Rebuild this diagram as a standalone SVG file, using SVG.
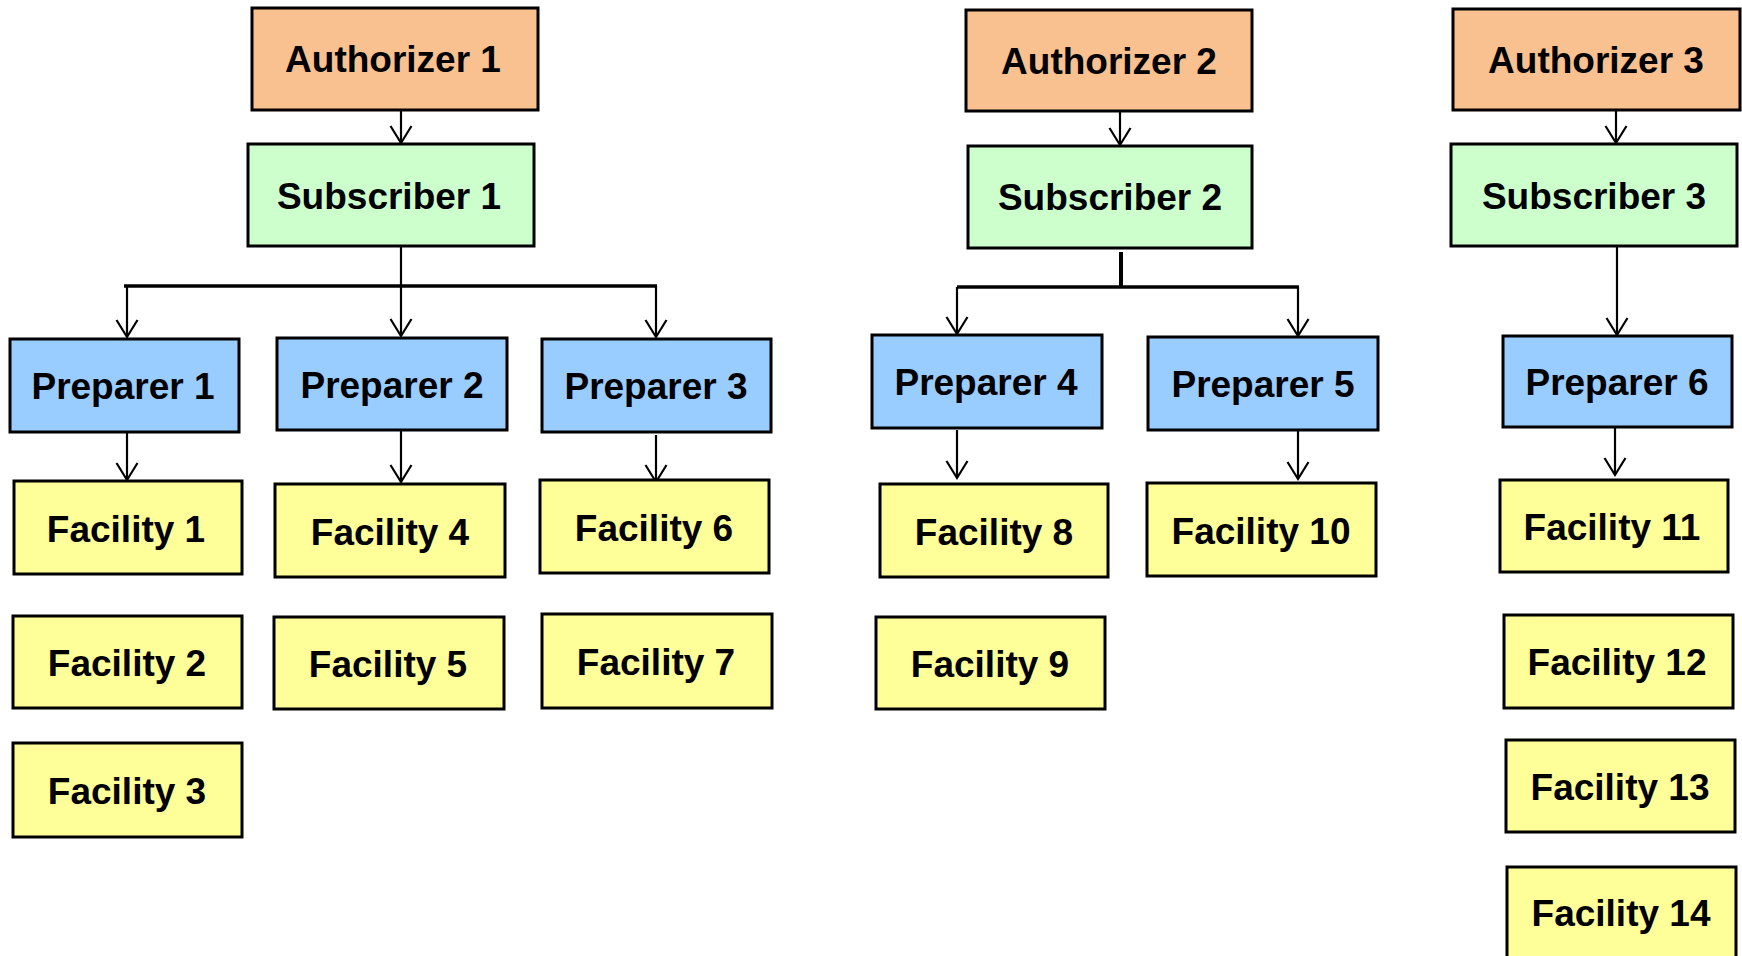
<svg xmlns="http://www.w3.org/2000/svg" width="1742" height="956" viewBox="0 0 1742 956">
<style>
.box{stroke:#000;stroke-width:3}
.auth{fill:#F9C090}
.sub{fill:#CCFFCC}
.prep{fill:#99CCFF}
.fac{fill:#FFFF99}
text{font-family:"Liberation Sans",Arial,sans-serif;font-weight:bold;font-size:37px;fill:#000;text-anchor:middle}
.ln{stroke:#000;stroke-width:2.2;fill:none}
.bus{stroke:#000;stroke-width:3.5;fill:none}
</style>
<defs>
<marker id="arr" markerUnits="userSpaceOnUse" markerWidth="22" markerHeight="26" viewBox="-19 -13 22 26" refX="0" refY="0" orient="auto">
<path d="M-17,-10.5 L0,0 L-17,10.5" fill="none" stroke="#000" stroke-width="2.2"/>
</marker>
</defs>
<rect width="1742" height="956" fill="#fff"/>
<g id="connectors">
<line class="ln" x1="401" y1="110" x2="401" y2="143" marker-end="url(#arr)"/>
<line class="ln" x1="1120" y1="111" x2="1120" y2="145" marker-end="url(#arr)"/>
<line class="ln" x1="1616" y1="110" x2="1616" y2="143" marker-end="url(#arr)"/>
<line class="ln" x1="401" y1="246" x2="401" y2="286"/>
<line class="bus" x1="124" y1="286" x2="657" y2="286"/>
<line class="ln" x1="127" y1="286" x2="127" y2="337" marker-end="url(#arr)"/>
<line class="ln" x1="401" y1="286" x2="401" y2="336" marker-end="url(#arr)"/>
<line class="ln" x1="656" y1="286" x2="656" y2="337" marker-end="url(#arr)"/>
<line x1="1121" y1="252" x2="1121" y2="287" stroke="#000" stroke-width="4"/>
<line class="bus" x1="957" y1="287" x2="1299" y2="287"/>
<line class="ln" x1="957" y1="287" x2="957" y2="334" marker-end="url(#arr)"/>
<line class="ln" x1="1298" y1="287" x2="1298" y2="336" marker-end="url(#arr)"/>
<line class="ln" x1="1617" y1="246" x2="1617" y2="335" marker-end="url(#arr)"/>
<line class="ln" x1="127" y1="432" x2="127" y2="480" marker-end="url(#arr)"/>
<line class="ln" x1="401" y1="430" x2="401" y2="482" marker-end="url(#arr)"/>
<line class="ln" x1="656" y1="435" x2="656" y2="482" marker-end="url(#arr)"/>
<line class="ln" x1="957" y1="430" x2="957" y2="478" marker-end="url(#arr)"/>
<line class="ln" x1="1298" y1="430" x2="1298" y2="479" marker-end="url(#arr)"/>
<line class="ln" x1="1615" y1="427" x2="1615" y2="475" marker-end="url(#arr)"/>
</g>
<g id="authorizer1"><rect class="box auth" x="252" y="8" width="286" height="102"/><text x="393" y="72">Authorizer 1</text></g>
<g id="subscriber1"><rect class="box sub" x="248" y="144" width="286" height="102"/><text x="389" y="209">Subscriber 1</text></g>
<g id="authorizer2"><rect class="box auth" x="966" y="10" width="286" height="101"/><text x="1109" y="74">Authorizer 2</text></g>
<g id="subscriber2"><rect class="box sub" x="968" y="146" width="284" height="102"/><text x="1110" y="210">Subscriber 2</text></g>
<g id="authorizer3"><rect class="box auth" x="1453" y="9" width="287" height="101"/><text x="1596" y="73">Authorizer 3</text></g>
<g id="subscriber3"><rect class="box sub" x="1451" y="144" width="286" height="102"/><text x="1594" y="209">Subscriber 3</text></g>
<g id="preparer1"><rect class="box prep" x="10" y="339" width="229" height="93"/><text x="123" y="399">Preparer 1</text></g>
<g id="preparer2"><rect class="box prep" x="277" y="338" width="230" height="92"/><text x="392" y="398">Preparer 2</text></g>
<g id="preparer3"><rect class="box prep" x="542" y="339" width="229" height="93"/><text x="656" y="399">Preparer 3</text></g>
<g id="preparer4"><rect class="box prep" x="872" y="335" width="230" height="93"/><text x="986" y="395">Preparer 4</text></g>
<g id="preparer5"><rect class="box prep" x="1148" y="337" width="230" height="93"/><text x="1263" y="397">Preparer 5</text></g>
<g id="preparer6"><rect class="box prep" x="1503" y="336" width="229" height="91"/><text x="1617" y="395">Preparer 6</text></g>
<g id="facility1"><rect class="box fac" x="14" y="481" width="228" height="93"/><text x="126" y="542">Facility 1</text></g>
<g id="facility2"><rect class="box fac" x="13" y="616" width="229" height="92"/><text x="127" y="676">Facility 2</text></g>
<g id="facility3"><rect class="box fac" x="13" y="743" width="229" height="94"/><text x="127" y="804">Facility 3</text></g>
<g id="facility4"><rect class="box fac" x="275" y="484" width="230" height="93"/><text x="390" y="545">Facility 4</text></g>
<g id="facility5"><rect class="box fac" x="274" y="617" width="230" height="92"/><text x="388" y="677">Facility 5</text></g>
<g id="facility6"><rect class="box fac" x="540" y="480" width="229" height="93"/><text x="654" y="541">Facility 6</text></g>
<g id="facility7"><rect class="box fac" x="542" y="614" width="230" height="94"/><text x="656" y="675">Facility 7</text></g>
<g id="facility8"><rect class="box fac" x="880" y="484" width="228" height="93"/><text x="994" y="545">Facility 8</text></g>
<g id="facility9"><rect class="box fac" x="876" y="617" width="229" height="92"/><text x="990" y="677">Facility 9</text></g>
<g id="facility10"><rect class="box fac" x="1147" y="483" width="229" height="93"/><text x="1261" y="544">Facility 10</text></g>
<g id="facility11"><rect class="box fac" x="1500" y="480" width="228" height="92"/><text x="1612" y="540">Facility 11</text></g>
<g id="facility12"><rect class="box fac" x="1504" y="615" width="229" height="93"/><text x="1617" y="675">Facility 12</text></g>
<g id="facility13"><rect class="box fac" x="1506" y="740" width="229" height="92"/><text x="1620" y="800">Facility 13</text></g>
<g id="facility14"><rect class="box fac" x="1507" y="867" width="229" height="93"/><text x="1621" y="926">Facility 14</text></g>
</svg>
